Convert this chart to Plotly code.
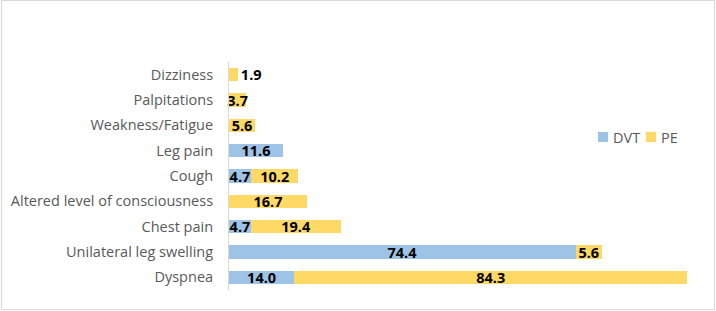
import plotly.graph_objects as go

categories = ["Dyspnea", "Unilateral leg swelling", "Chest pain", "Altered level of consciousness",
              "Cough", "Leg pain", "Weakness/Fatigue", "Palpitations", "Dizziness"]
dvt = [14.0, 74.4, 4.7, 0, 4.7, 11.6, 0, 0, 0]
pe = [84.3, 5.6, 19.4, 16.7, 10.2, 0, 5.6, 3.7, 1.9]
series_names = ["DVT", "PE"]
series_colors = ["#9DC3E6", "#FFD966"]

W, H = 716, 311
L, R, T, B = 229, 21, 62, 21
PW, PH = W - L - R, H - T - B
FONT = "Open Sans"

def px(x):
    return (x - L) / PW

def py(y):
    return 1 - (y - T) / PH

def labels(vals):
    return [f"{v:.1f}" if v else "" for v in vals]

lab_font = dict(family=FONT, size=14.5, color="black", weight="bold")

fig = go.Figure()
fig.add_trace(go.Bar(
    y=categories, x=dvt, name=series_names[0], orientation="h",
    marker=dict(color=series_colors[0], line=dict(width=0)),
    text=labels(dvt), textposition="inside", insidetextanchor="middle",
    constraintext="none", cliponaxis=False, textfont=lab_font,
))
fig.add_trace(go.Bar(
    y=categories, x=pe, name=series_names[1], orientation="h",
    marker=dict(color=series_colors[1], line=dict(width=0)),
    text=labels(pe),
    textposition=["inside"] * 8 + ["outside"],
    insidetextanchor="middle",
    constraintext="none", cliponaxis=False, textfont=lab_font,
))

# legend drawn as swatches + text for tight Excel-like spacing
shapes = [dict(type="rect", xref="paper", yref="paper",
               x0=px(1.5), x1=px(714.5), y0=py(309.5), y1=py(0.5),
               line=dict(color="#D9D9D9", width=1))]
annotations = []
leg_x = [598, 646]
for name, color, x0 in zip(series_names, series_colors, leg_x):
    shapes.append(dict(type="rect", xref="paper", yref="paper",
                       x0=px(x0), x1=px(x0 + 10), y0=py(142), y1=py(132),
                       line=dict(width=0), fillcolor=color))
    annotations.append(dict(text=name, xref="paper", yref="paper", x=px(x0 + 13), y=py(137),
                            xanchor="left", yanchor="middle", showarrow=False,
                            font=dict(family=FONT, size=14.5, color="#595959")))

fig.update_layout(
    barmode="stack", bargap=0.48,
    width=W, height=H,
    margin=dict(l=L, r=R, t=T, b=B, pad=0),
    paper_bgcolor="white", plot_bgcolor="white",
    font=dict(family=FONT, size=14.5, color="#595959"),
    showlegend=False,
    xaxis=dict(range=[0, 100], visible=False, fixedrange=True),
    yaxis=dict(showline=True, linecolor="#D9D9D9", linewidth=1, ticks="",
               ticklabelstandoff=12, showgrid=False, zeroline=False,
               tickfont=dict(family=FONT, size=14.5, color="#595959")),
    shapes=shapes,
    annotations=annotations,
)

fig.write_html("out.html")
